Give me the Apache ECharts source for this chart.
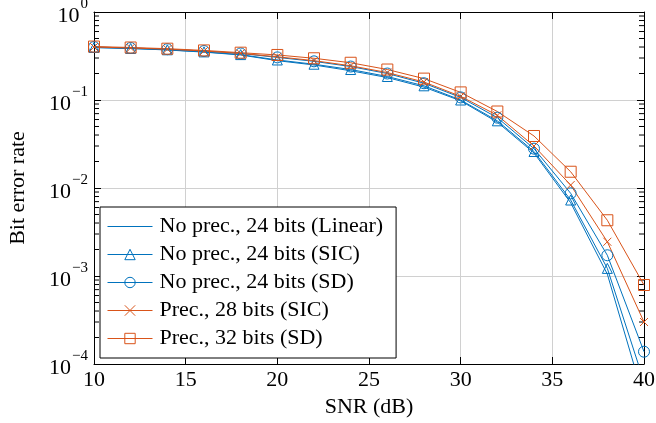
<!DOCTYPE html>
<html>
<head>
<meta charset="utf-8">
<script src="https://cdn.jsdelivr.net/npm/echarts@6/dist/echarts.min.js"></script>
<style>
  html, body { margin: 0; padding: 0; background: #fff; }
  #chart { width: 656px; height: 423px; }
</style>
</head>
<body>
<div id="chart"></div>
<script>
const snr = [10, 12, 14, 16, 18, 20, 22, 24, 26, 28, 30, 32, 34, 36, 38, 40];
const noPrecLinear = [0.395, 0.385, 0.37, 0.35, 0.325, 0.28, 0.25, 0.215, 0.18, 0.14, 0.098, 0.056, 0.025, 0.0068, 0.00105, 0.00004];
const noPrecSIC = [0.395, 0.385, 0.372, 0.352, 0.328, 0.285, 0.255, 0.222, 0.185, 0.145, 0.1, 0.058, 0.026, 0.0073, 0.00122, 0.000063];
const noPrecSD = [0.4, 0.39, 0.378, 0.36, 0.338, 0.305, 0.275, 0.24, 0.2, 0.155, 0.107, 0.063, 0.028, 0.0087, 0.00172, 0.000138];
const prec28SIC = [0.4, 0.39, 0.378, 0.36, 0.338, 0.31, 0.28, 0.245, 0.205, 0.16, 0.11, 0.067, 0.03, 0.0108, 0.00245, 0.0003];
const prec32SD = [0.405, 0.395, 0.383, 0.366, 0.345, 0.325, 0.298, 0.265, 0.222, 0.175, 0.122, 0.074, 0.039, 0.0153, 0.0043, 0.00079];
const seriesNames = ['No prec., 24 bits (Linear)', 'No prec., 24 bits (SIC)', 'No prec., 24 bits (SD)', 'Prec., 28 bits (SIC)', 'Prec., 32 bits (SD)'];
// minor ticks of the log axis (2..9 in each decade)
const minorTicks = [];
[1e-4, 1e-3, 1e-2, 1e-1].forEach(d => {
  for (let k = 2; k <= 9; k++) minorTicks.push(k * d);
});

const BLUE = '#0072BD';
const ORANGE = '#D95319';
const FONT = 'Liberation Serif';
const FS = 22;
const crossPath = 'path://M0,0L10,10M10,0L0,10';

const pairs = ys => snr.map((x, i) => [x, ys[i]]);

function mkSeries(name, ys, color, symbol, size) {
  return {
    name: name,
    type: 'line',
    data: pairs(ys),
    symbol: symbol || 'none',
    symbolSize: size || 10,
    showSymbol: !!symbol,
    lineStyle: { color: color, width: 1 },
    itemStyle: { color: 'rgba(0,0,0,0)', borderColor: color, borderWidth: 1 },
    emphasis: { disabled: true },
    animation: false,
    z: 3
  };
}

const supLabel = v => {
  const e = Math.round(Math.log10(v));
  return '{b|10}{s|' + (e < 0 ? '\u2212' + (-e) : e) + '}';
};
const richSup = {
  b: { fontFamily: FONT, fontSize: FS, color: '#000', verticalAlign: 'bottom', padding: [8, 0, 0, 0] },
  s: { fontFamily: FONT, fontSize: 15, color: '#000', verticalAlign: 'top', padding: [0, 0, 10, 1] }
};

// the Linear curve has no marker, so hide the legend's marker for it
const legendData = seriesNames.map((n, i) => i === 0
  ? { name: n, itemStyle: { color: 'rgba(0,0,0,0)', borderColor: 'rgba(0,0,0,0)', borderWidth: 0 } }
  : { name: n });

const chart = echarts.init(document.getElementById('chart'));
chart.setOption({
  backgroundColor: '#fff',
  animation: false,
  grid: { left: 94, right: 12, top: 12, bottom: 59, outerBoundsMode: 'none', containLabel: false },
  legend: {
    data: legendData,
    orient: 'vertical',
    left: 100,
    top: 207,
    itemWidth: 45,
    itemHeight: 13,
    itemGap: 5,
    padding: [8, 13, 8, 7],
    backgroundColor: '#fff',
    borderColor: '#000',
    borderWidth: 1,
    borderRadius: 0,
    itemStyle: { borderWidth: 1 },
    lineStyle: { width: 1 },
    textStyle: { fontFamily: FONT, fontSize: FS, color: '#000', padding: [0, 0, 0, 2], lineHeight: 23 }
  },
  xAxis: [{
    type: 'value', min: 10, max: 40, interval: 5,
    name: 'SNR (dB)', nameLocation: 'middle', nameGap: 32,
    nameTextStyle: { fontFamily: FONT, fontSize: FS, color: '#000' },
    axisLine: { onZero: false, lineStyle: { color: '#000', width: 1 } },
    axisTick: { inside: true, length: 7, lineStyle: { color: '#000' } },
    axisLabel: { fontFamily: FONT, fontSize: FS, color: '#000', margin: 5 },
    splitLine: { show: true, lineStyle: { color: '#d0d0d0', width: 1 } }
  }, {
    type: 'value', min: 10, max: 40, interval: 5, position: 'top',
    axisLine: { onZero: false, lineStyle: { color: '#000', width: 1 } },
    axisTick: { inside: true, length: 7, lineStyle: { color: '#000' } },
    axisLabel: { show: false },
    splitLine: { show: false }
  }],
  yAxis: [{
    type: 'log', logBase: 10, min: 1e-4, max: 1,
    name: 'Bit error rate', nameLocation: 'middle', nameGap: 65, nameRotate: 90,
    nameTextStyle: { fontFamily: FONT, fontSize: FS, color: '#000' },
    axisLine: { onZero: false, lineStyle: { color: '#000', width: 1 } },
    axisTick: { inside: true, length: 7, lineStyle: { color: '#000' } },
    axisLabel: { formatter: supLabel, rich: richSup, margin: 6 },
    splitLine: { show: true, lineStyle: { color: '#d0d0d0', width: 1 } }
  }, {
    type: 'log', logBase: 10, min: 1e-4, max: 1, position: 'right',
    axisLine: { onZero: false, lineStyle: { color: '#000', width: 1 } },
    axisTick: { inside: true, length: 7, lineStyle: { color: '#000' } },
    axisLabel: { show: false },
    splitLine: { show: false }
  }],
  series: [
    mkSeries(seriesNames[0], noPrecLinear, BLUE, null),
    mkSeries(seriesNames[1], noPrecSIC, BLUE, 'triangle', 10),
    mkSeries(seriesNames[2], noPrecSD, BLUE, 'circle', 11),
    mkSeries(seriesNames[3], prec28SIC, ORANGE, crossPath, 8),
    mkSeries(seriesNames[4], prec32SD, ORANGE, 'rect', 11),
    {
      // minor log ticks on both vertical edges, placed through the axes
      type: 'custom',
      silent: true,
      z: 2,
      data: minorTicks.map(v => [10, v]),
      renderItem: (params, api) => {
        const v = api.value(1);
        const l = api.coord([10, v]);
        const r = api.coord([40, v]);
        const st = { stroke: '#000', lineWidth: 1 };
        return {
          type: 'group',
          children: [
            { type: 'line', shape: { x1: l[0], y1: l[1], x2: l[0] + 5, y2: l[1] }, style: st },
            { type: 'line', shape: { x1: r[0], y1: r[1], x2: r[0] - 5, y2: r[1] }, style: st }
          ]
        };
      }
    }
  ]
});
</script>
</body>
</html>
